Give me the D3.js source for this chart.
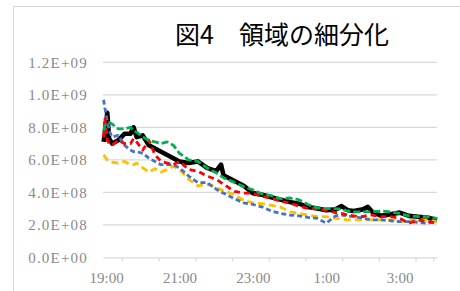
<!DOCTYPE html>
<html>
<head>
<meta charset="utf-8">
<script src="https://cdn.jsdelivr.net/npm/d3@7"></script>
<style>
  body { margin: 0; background: #fff; }
  svg { display: block; }
</style>
</head>
<body>
<div id="chart"></div>
<script>
// chart data (values in units of 1E+08)
var times = ["18:56","18:58","19:02","19:05","19:10","19:20","19:30","19:40","19:45","19:50",
  "20:00","20:10","20:20","20:30","20:40","20:50","21:00","21:15","21:30","21:45",
  "22:00","22:08","22:12","22:30","22:45","23:00","23:15","23:30","23:45","0:00",
  "0:15","0:30","0:45","1:00","1:15","1:25","1:35","1:45","2:00","2:08",
  "2:15","2:30","2:45","3:00","3:15","3:30","3:45","4:01"];

var seriesBlack = [7.1,7.6,8.9,7.3,7.0,7.2,7.6,7.6,8.0,7.4,
  7.5,6.9,6.7,6.5,6.3,6.1,5.9,5.8,5.9,5.5,
  5.3,5.7,5.05,4.7,4.4,3.95,3.85,3.7,3.55,3.4,
  3.3,3.1,3.0,2.9,2.95,3.15,2.9,2.85,2.95,3.1,
  2.8,2.55,2.65,2.75,2.55,2.5,2.45,2.3];
var seriesGreen = [7.8,8.1,8.2,8.3,8.2,7.9,7.9,8.0,7.8,7.7,
  7.4,7.2,7.1,7.0,7.1,6.9,6.4,6.0,5.9,5.5,
  5.2,5.0,4.9,4.6,4.35,4.15,3.9,3.8,3.6,3.65,
  3.55,3.25,3.05,3.0,3.0,2.95,2.85,2.8,2.8,2.8,
  2.8,2.85,2.8,2.7,2.55,2.5,2.5,2.4];
var seriesRed = [7.4,8.6,7.2,7.0,6.9,7.2,7.0,7.0,7.3,7.1,
  6.6,7.2,6.3,5.9,5.8,5.7,5.9,5.4,5.3,5.0,
  4.8,4.6,4.5,4.05,3.95,3.95,3.75,3.65,3.45,3.35,
  3.15,3.0,3.0,2.9,2.75,2.7,2.6,2.55,2.5,2.6,
  2.6,2.5,2.5,2.4,2.1,2.3,2.2,2.1];
var seriesBlue = [9.7,9.2,8.4,7.8,7.4,7.5,6.9,6.6,6.5,6.5,
  6.4,6.1,5.9,5.7,5.7,5.7,5.5,5.0,4.6,4.6,
  4.2,4.0,3.95,3.6,3.35,3.25,3.1,2.85,2.7,2.6,
  2.55,2.45,2.4,2.1,2.55,2.6,2.55,2.5,2.4,2.35,
  2.3,2.3,2.25,2.2,2.2,2.15,2.1,2.2];
var seriesYellow = [6.3,6.2,6.0,5.9,5.85,5.8,5.9,5.7,5.7,5.8,
  5.5,5.25,5.45,5.25,5.4,5.6,5.4,4.8,4.4,4.5,
  4.3,4.15,4.1,3.85,3.5,3.35,3.3,3.2,3.1,2.8,
  2.7,2.6,2.5,2.5,2.4,2.35,2.3,2.3,2.3,2.3,
  2.3,2.3,2.3,2.2,2.25,2.3,2.3,2.2];

var yTicks = [0, 2, 4, 6, 8, 10, 12];
var xLabelTimes = ["19:00","21:00","23:00","1:00","3:00"];
var titleText = "図4　領域の細分化";

// minutes after 19:00 (times after midnight wrap)
function toMin(s) {
    var p = s.split(":"), h = +p[0], m = +p[1];
    if (h < 12) h += 24;
    return (h - 19) * 60 + m;
}

// excel-like scientific label
function sci(v) {
    var val = v * 1e8;
    if (val === 0) return "0.0E+00";
    var e = Math.floor(Math.log10(val) + 1e-9);
    var mant = val / Math.pow(10, e);
    return mant.toFixed(1) + "E+" + (e < 10 ? "0" + e : e);
}

var W = 460, H = 291;
var svg = d3.select("#chart").append("svg").attr("width", W).attr("height", H);

// outer border
svg.append("rect").attr("x", 13.5).attr("y", 6.5).attr("width", 460).attr("height", 300)
    .style("fill", "#fff").style("stroke", "#d9d9d9");

var xScale = d3.scaleLinear().domain([-5, 541]).range([103, 437]);
var yScale = d3.scaleLinear().domain([0, 12]).range([257.3, 62.3]);

// gridlines
svg.append("g").selectAll("line").data(yTicks.slice(1)).enter().append("line")
    .attr("x1", 103).attr("x2", 437)
    .attr("y1", function(d) { return yScale(d); }).attr("y2", function(d) { return yScale(d); })
    .style("stroke", "#d9d9d9").style("stroke-width", 1.3);

// y axis labels
var yAxis = d3.axisLeft(yScale).tickValues(yTicks).tickSize(0).tickPadding(0).tickFormat(sci);
var gy = svg.append("g").attr("transform", "translate(88,0)").call(yAxis);
gy.select(".domain").remove();
gy.selectAll("text").style("font-family", "'Liberation Serif', serif").style("font-size", "15px")
    .style("letter-spacing", "1.2px").style("fill", "#8a8a8a");

// x axis: line + tick marks
var tickMins = [26, 86, 146, 206, 266, 326, 386, 446, 506, 535];
var xAxisTicks = d3.axisBottom(xScale).tickValues(tickMins).tickSize(4).tickSizeOuter(0).tickFormat("");
var gx = svg.append("g").attr("transform", "translate(0,257.3)").call(xAxisTicks);
gx.select(".domain").style("stroke", "#d9d9d9").style("stroke-width", 1.3);
gx.selectAll(".tick line").style("stroke", "#d9d9d9").style("stroke-width", 1.3);

var xAxisLabels = d3.axisBottom(xScale).tickValues(xLabelTimes.map(toMin)).tickSize(0).tickPadding(0)
    .tickFormat(function(d, i) { return xLabelTimes[i]; });
var gxl = svg.append("g").attr("transform", "translate(0,272)").call(xAxisLabels);
gxl.select(".domain").remove();
gxl.selectAll("text").style("font-family", "'Liberation Serif', serif").style("font-size", "15px")
    .style("fill", "#8a8a8a");

// series, black first so dashed ones sit on top
var series = [
    {values: seriesBlack, color: "#000000", width: 4.6, dash: null},
    {values: seriesYellow, color: "#ffc000", width: 2.8, dash: "7,4"},
    {values: seriesBlue, color: "#4472c4", width: 2.8, dash: "5,3"},
    {values: seriesRed, color: "#ff0000", width: 2.8, dash: "6,4"},
    {values: seriesGreen, color: "#00b050", width: 2.8, dash: "7,3"}
];

var line = d3.line()
    .x(function(d) { return xScale(d.t); })
    .y(function(d) { return yScale(d.v); });

series.forEach(function(s) {
    var pts = times.map(function(t, i) { return {t: toMin(t), v: s.values[i]}; });
    var p = svg.append("path").datum(pts).attr("d", line)
        .style("fill", "none").style("stroke", s.color).style("stroke-width", s.width)
        .style("stroke-linejoin", "round");
    if (s.dash) p.style("stroke-dasharray", s.dash);
});

// title
svg.append("text").attr("x", 282).attr("y", 44).attr("text-anchor", "middle")
    .style("font-family", "'Noto Sans CJK JP', sans-serif").style("font-size", "25px")
    .style("fill", "#000").text(titleText);
</script>
</body>
</html>
